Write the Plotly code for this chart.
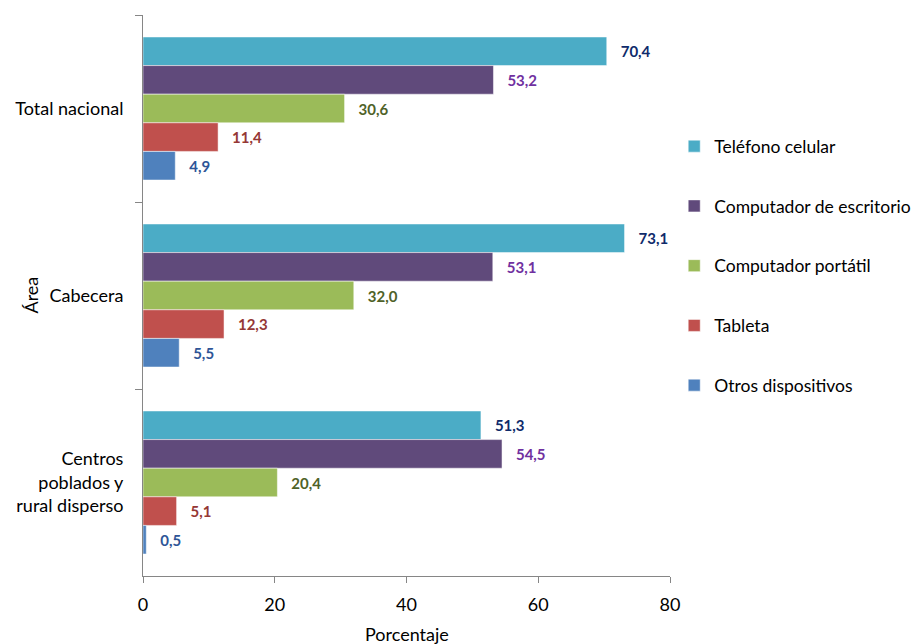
import plotly.graph_objects as go

areas = ["Total nacional", "Cabecera", "Centros<br>poblados y<br>rural disperso"]
series = ["Teléfono celular", "Computador de escritorio", "Computador portátil", "Tableta", "Otros dispositivos"]
telefono = [70.4, 73.1, 51.3]
escritorio = [53.2, 53.1, 54.5]
portatil = [30.6, 32.0, 20.4]
tableta = [11.4, 12.3, 5.1]
otros = [4.9, 5.5, 0.5]
values = [telefono, escritorio, portatil, tableta, otros]

bar_colors = ["#4BACC6", "#604A7B", "#9BBB59", "#C0504D", "#4F81BD"]
label_colors = ["#0F2B6B", "#7030A0", "#4F6228", "#953735", "#2E5597"]

FONT = "Lato, Carlito, Calibri, sans-serif"

fig = go.Figure()
for i, (name, vals) in enumerate(zip(series, values)):
    fig.add_trace(go.Bar(
        y=areas, x=vals, name=name, orientation="h",
        marker=dict(color=bar_colors[i], line=dict(color="white", width=0.5)),
        texttemplate="\u00a0\u00a0\u00a0%{x:.1f}", textposition="outside",
        textfont=dict(family=FONT, size=15, color=label_colors[i], weight="bold"),
        cliponaxis=False, legendgroup=f"g{i}",
    ))

fig.update_layout(
    width=914, height=636,
    margin=dict(l=135, r=252, t=7, b=68, autoexpand=False),
    paper_bgcolor="white", plot_bgcolor="white",
    separators=",.",
    barmode="group", bargap=0.235, bargroupgap=0,
    font=dict(family=FONT, size=18, color="#000000"),
    showlegend=True,
    legend=dict(x=1.008, y=0.553, xanchor="left", yanchor="middle",
                traceorder="grouped", tracegroupgap=34,
                font=dict(family=FONT, size=17.5, color="#000000"),
                itemwidth=30),
)
fig.update_xaxes(range=[0, 80], tickvals=[0, 20, 40, 60, 80], showgrid=False, zeroline=False,
                 showline=True, linecolor="#868686", linewidth=1, automargin=False,
                 ticks="outside", ticklen=6, tickcolor="#868686", ticklabelstandoff=6,
                 tickfont=dict(family=FONT, size=18, color="#000000"))
fig.update_yaxes(autorange="reversed", showgrid=False, showline=True, linecolor="#868686",
                 linewidth=1, ticks="outside", ticklen=7, tickcolor="#868686", automargin=False,
                 tickson="boundaries", ticklabelstandoff=15,
                 tickfont=dict(family=FONT, size=18, color="#000000"))
fig.add_annotation(text="Área", xref="paper", yref="paper", x=(30 - 143) / 527, y=0.5,
                   xanchor="center", yanchor="middle",
                   textangle=-90, showarrow=False, font=dict(family=FONT, size=18, color="#000000"))
fig.add_annotation(text="Porcentaje", xref="paper", yref="paper", x=0.5, y=(576 - 634) / 561,
                   xanchor="center", yanchor="middle", showarrow=False,
                   font=dict(family=FONT, size=18, color="#000000"))

fig.write_html("out.html")
